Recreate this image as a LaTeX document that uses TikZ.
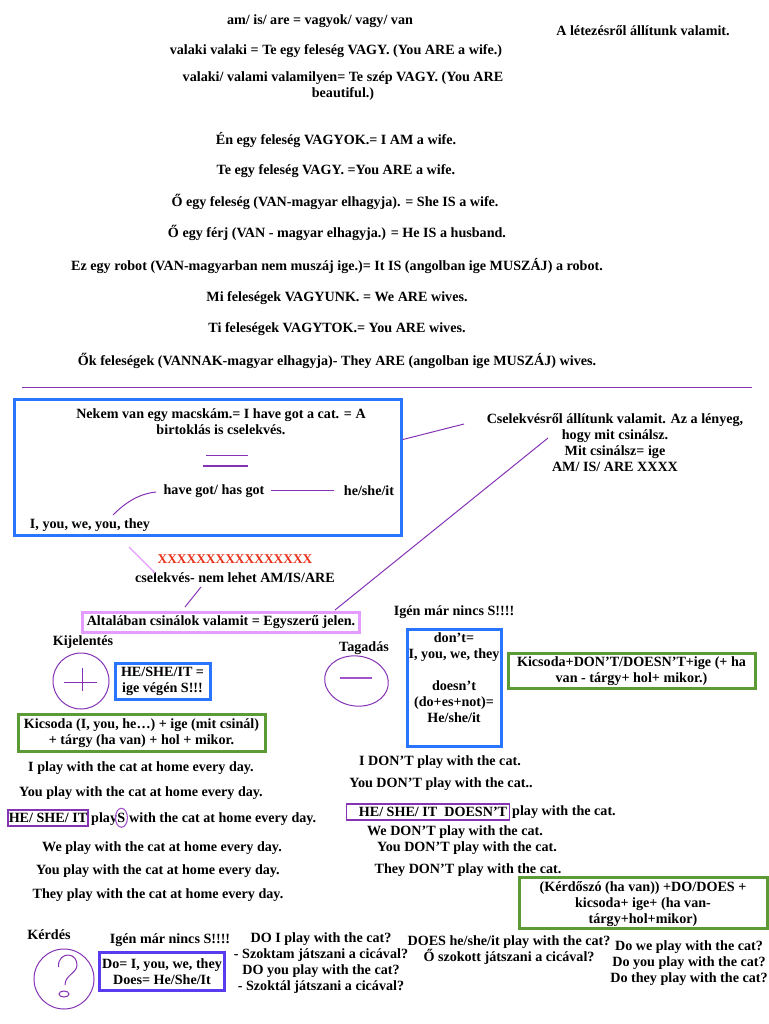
\documentclass[tikz,border=0pt]{standalone}
\usepackage{fontspec}
\setmainfont{Liberation Serif}
\usetikzlibrary{positioning,shapes.geometric}
\definecolor{lila}{HTML}{8533B5}
\definecolor{rozsa}{HTML}{E59CFF}
\definecolor{kek}{HTML}{2A75FF}
\definecolor{zold}{HTML}{5C9A35}
\definecolor{ibolya}{HTML}{5A3CF0}
\definecolor{piros}{HTML}{E8301A}
\tikzset{
  alap/.style={font=\fontsize{14.12}{16}\selectfont\bfseries, text=black, inner sep=0pt, align=center},
  txt/.style={alap, yshift=-1pt},
  vonal/.style={lila, line width=1pt},
  kekbox/.style={alap, draw=kek, line width=3pt},
  zoldbox/.style={alap, draw=zold, line width=3pt},
  lilabox/.style={alap, draw=lila, line width=1.8pt}
}
\begin{document}
\begin{tikzpicture}[x=1pt, y=-1pt]
\useasboundingbox (0,0) rectangle (768,1024);

% Top block
\node[txt] (cim) at (320,20) {am/ is/ are = vagyok/ vagy/ van};
\node[txt] (letezes) at (643,30) {A létezésről állítunk valamit.};
\node[txt] (valaki) at (336,50) {valaki valaki = Te egy feleség VAGY. (You ARE a wife.)};
\node[txt] (szep) at (343,85) {valaki/ valami valamilyen= Te szép VAGY. (You ARE\\beautiful.)};
\node[txt] (en) at (336,139) {Én egy feleség VAGYOK.= I AM a wife.};
\node[txt] (te) at (336,170) {Te egy feleség VAGY. =You ARE a wife.};
\node[txt] (o) at (335,201) {Ő egy feleség (VAN-magyar elhagyja). = She IS a wife.};
\node[txt] (ferj) at (337,232) {Ő egy férj (VAN - magyar elhagyja.) = He IS a husband.};
\node[txt] (ez) at (337,265) {Ez egy robot (VAN-magyarban nem muszáj ige.)= It IS (angolban ige MUSZÁJ) a robot.};
\node[txt] (mi) at (337,297) {Mi feleségek VAGYUNK. = We ARE wives.};
\node[txt] (ti) at (337,328) {Ti feleségek VAGYTOK.= You ARE wives.};
\node[txt] (ok) at (337,360) {Ők feleségek (VANNAK-magyar elhagyja)- They ARE (angolban ige MUSZÁJ) wives.};

% Separator
\coordinate (sepbal) at (22,387);
\coordinate (sepjobb) at (752,387);
\draw[lila, line width=0.7pt] (sepbal) -- (sepjobb);

% Possession box
\node[kekbox, minimum width=387pt, minimum height=136pt] (birtok) at (207.5,467) {};
\node[txt] (macska) at (221,421) {Nekem van egy macskám.= I have got a cat. = A\\birtoklás is cselekvés.};
\node[txt] (havegot) at (214,490) {have got/ has got};
\node[txt] (heshe) at (369,490) {he/she/it};
\node[txt] (ion) at (90,524) {I, you, we, you, they};
\coordinate (egy) at (206,455);
\coordinate (egyv) at (248,455);
\coordinate (ket) at (203,466);
\coordinate (ketv) at (248,466);
\draw[vonal, line width=0.8pt] (egy) -- (egyv);
\draw[vonal, line width=1.4pt] (ket) -- (ketv);
\coordinate (hgv) at (271,490.5);
\coordinate (hsv) at (334,490.5);
\draw[vonal] (hgv) -- (hsv);
\coordinate (ivt) at (113,515);
\coordinate (ivv) at (156,492);
\draw[vonal] (ivt) .. controls (125,503) and (138,494) .. (ivv);

% Action text on the right
\node[txt] (csel) at (615,442) {Cselekvésről állítunk valamit. Az a lényeg,\\hogy mit csinálsz.\\Mit csinálsz= ige\\AM/ IS/ ARE XXXX};
\coordinate (birtv) at (464,424);
\coordinate (cselv) at (548,438);
\coordinate (jelenv) at (335,610);
\draw[vonal] (birtok.8.5) -- (birtv);
\draw[vonal] (cselv) -- (jelenv);

% Simple present
\node[txt, text=piros, font=\fontsize{13.4}{16}\selectfont\bfseries] (xek) at (235,558) {XXXXXXXXXXXXXXXX};
\node[txt] (nemlehet) at (235,577) {cselekvés- nem lehet AM/IS/ARE};
\node[alap, draw=rozsa, line width=3pt, minimum width=277pt, minimum height=20pt] (jelen) at (221,622) {Altalában csinálok valamit = Egyszerű jelen.};
\coordinate (rv) at (129,547);
\coordinate (rv2) at (155,573);
\coordinate (nv) at (201,587);
\coordinate (nv2) at (185,607);
\draw[rozsa, line width=1.1pt] (rv) -- (rv2);
\draw[vonal] (nv) -- (nv2);

% Statement
\node[txt] (kijel) at (83,641) {Kijelentés};
\node[circle, draw=lila, line width=1pt, minimum size=56pt, inner sep=0pt] (plusz) at (81,681) {};
\coordinate (p1) at (64,682);
\coordinate (p2) at (97,682);
\coordinate (p3) at (82,668);
\coordinate (p4) at (82,691);
\draw[vonal, line width=0.8pt] (p1) -- (p2);
\draw[vonal, line width=0.8pt] (p3) -- (p4);
\node[kekbox, minimum width=95pt, minimum height=36pt] (vegen) at (162.5,681) {HE/SHE/IT =\\ige végén S!!!};
\node[zoldbox, minimum width=247pt, minimum height=37pt] (kicsoda) at (141.5,733) {Kicsoda (I, you, he…) + ige (mit csinál)\\+ tárgy (ha van) + hol + mikor.};
\node[txt] (s1) at (141,767) {I play with the cat at home every day.};
\node[txt] (s2) at (141,792) {You play with the cat at home every day.};
\node[lilabox, minimum width=80pt, minimum height=15.5pt] (heit) at (48,818) {HE/ SHE/ IT};
\node[txt, anchor=west] (play) at (91,818) {play};
\node[alap, anchor=base west] (nagys) at (play.base east) {S};
\node[txt, anchor=west] (rest) at (129,818) {with the cat at home every day.};
\node[ellipse, draw=lila!70!rozsa, line width=1.1pt, minimum width=12pt, minimum height=19pt, inner sep=0pt] (skor) at (nagys) {};
\node[txt] (s4) at (162,847) {We play with the cat at home every day.};
\node[txt] (s5) at (158,870) {You play with the cat at home every day.};
\node[txt] (s6) at (158,894) {They play with the cat at home every day.};

% Negation
\node[txt] (tagad) at (364,647) {Tagadás};
\node[ellipse, draw=lila, line width=1pt, minimum width=64pt, minimum height=50pt, inner sep=0pt, rotate=-8] (minusz) at (356.5,681) {};
\coordinate (m1) at (340,678);
\coordinate (m2) at (372,678);
\draw[lila!70!rozsa, line width=1.2pt] (m1) -- (m2);
\node[txt] (nincs) at (454,611) {Igén már nincs S!!!!};
\node[kekbox, minimum width=94pt, minimum height=117pt] (dont) at (454,687.5) {don’t=\\I, you, we, they\\[16pt]doesn’t\\(do+es+not)=\\He/she/it\\[3pt]~};
\node[zoldbox, minimum width=247pt, minimum height=35pt] (tagszab) at (631.5,670.5) {\rule{0pt}{12pt}Kicsoda+DON’T/DOESN’T+ige (+ ha\\van - tárgy+ hol+ mikor.)};
\node[txt] (d1) at (440,761) {I DON’T play with the cat.};
\node[txt] (d2) at (441,783) {You DON’T play with the cat..};
\node[lilabox, minimum width=163pt, minimum height=15.5pt] (doesnt) at (428,812) {\hspace*{10pt}HE/ SHE/ IT\ \ DOESN’T};
\node[txt, anchor=west] (d3) at (512,811) {play with the cat.};
\node[txt] (d4) at (455,831) {We DON’T play with the cat.};
\node[txt] (d5) at (467,847) {You DON’T play with the cat.};
\node[txt] (d6) at (468,869) {They DON’T play with the cat.};

% Question
\node[zoldbox, minimum width=248pt, minimum height=51pt] (kerszab) at (643,902.5) {\rule{0pt}{14pt}(Kérdőszó (ha van)) +DO/DOES +\\kicsoda+ ige+ (ha van-\\tárgy+hol+mikor)};
\node[txt] (kerdes) at (49,934) {Kérdés};
\node[circle, draw=lila, line width=1pt, minimum size=60pt, inner sep=0pt] (kerkor) at (64,979) {};
\draw[vonal] (58.5,967) .. controls (58,958) and (64,955) .. (68,955) .. controls (74,955) and (77,960) .. (77,965) .. controls (77,973) and (65,975) .. (65,985);
\draw[vonal] (64,994) ellipse (5 and 3);
\node[txt] (nincs2) at (170,939) {Igén már nincs S!!!!};
\node[alap, draw=ibolya, line width=2.4pt, minimum width=125pt, minimum height=38pt] (doesbox) at (162,971.5) {Do= I, you, we, they\\Does= He/She/It};
\node[txt] (k1) at (321,962) {DO I play with the cat?\\- Szoktam játszani a cicával?\\DO you play with the cat?\\- Szoktál játszani a cicával?};
\node[txt] (k2) at (509,949) {DOES he/she/it play with the cat?\\Ő szokott játszani a cicával?};
\node[txt] (k3) at (689,962) {Do we play with the cat?\\Do you play with the cat?\\Do they play with the cat?};
\end{tikzpicture}
\end{document}
